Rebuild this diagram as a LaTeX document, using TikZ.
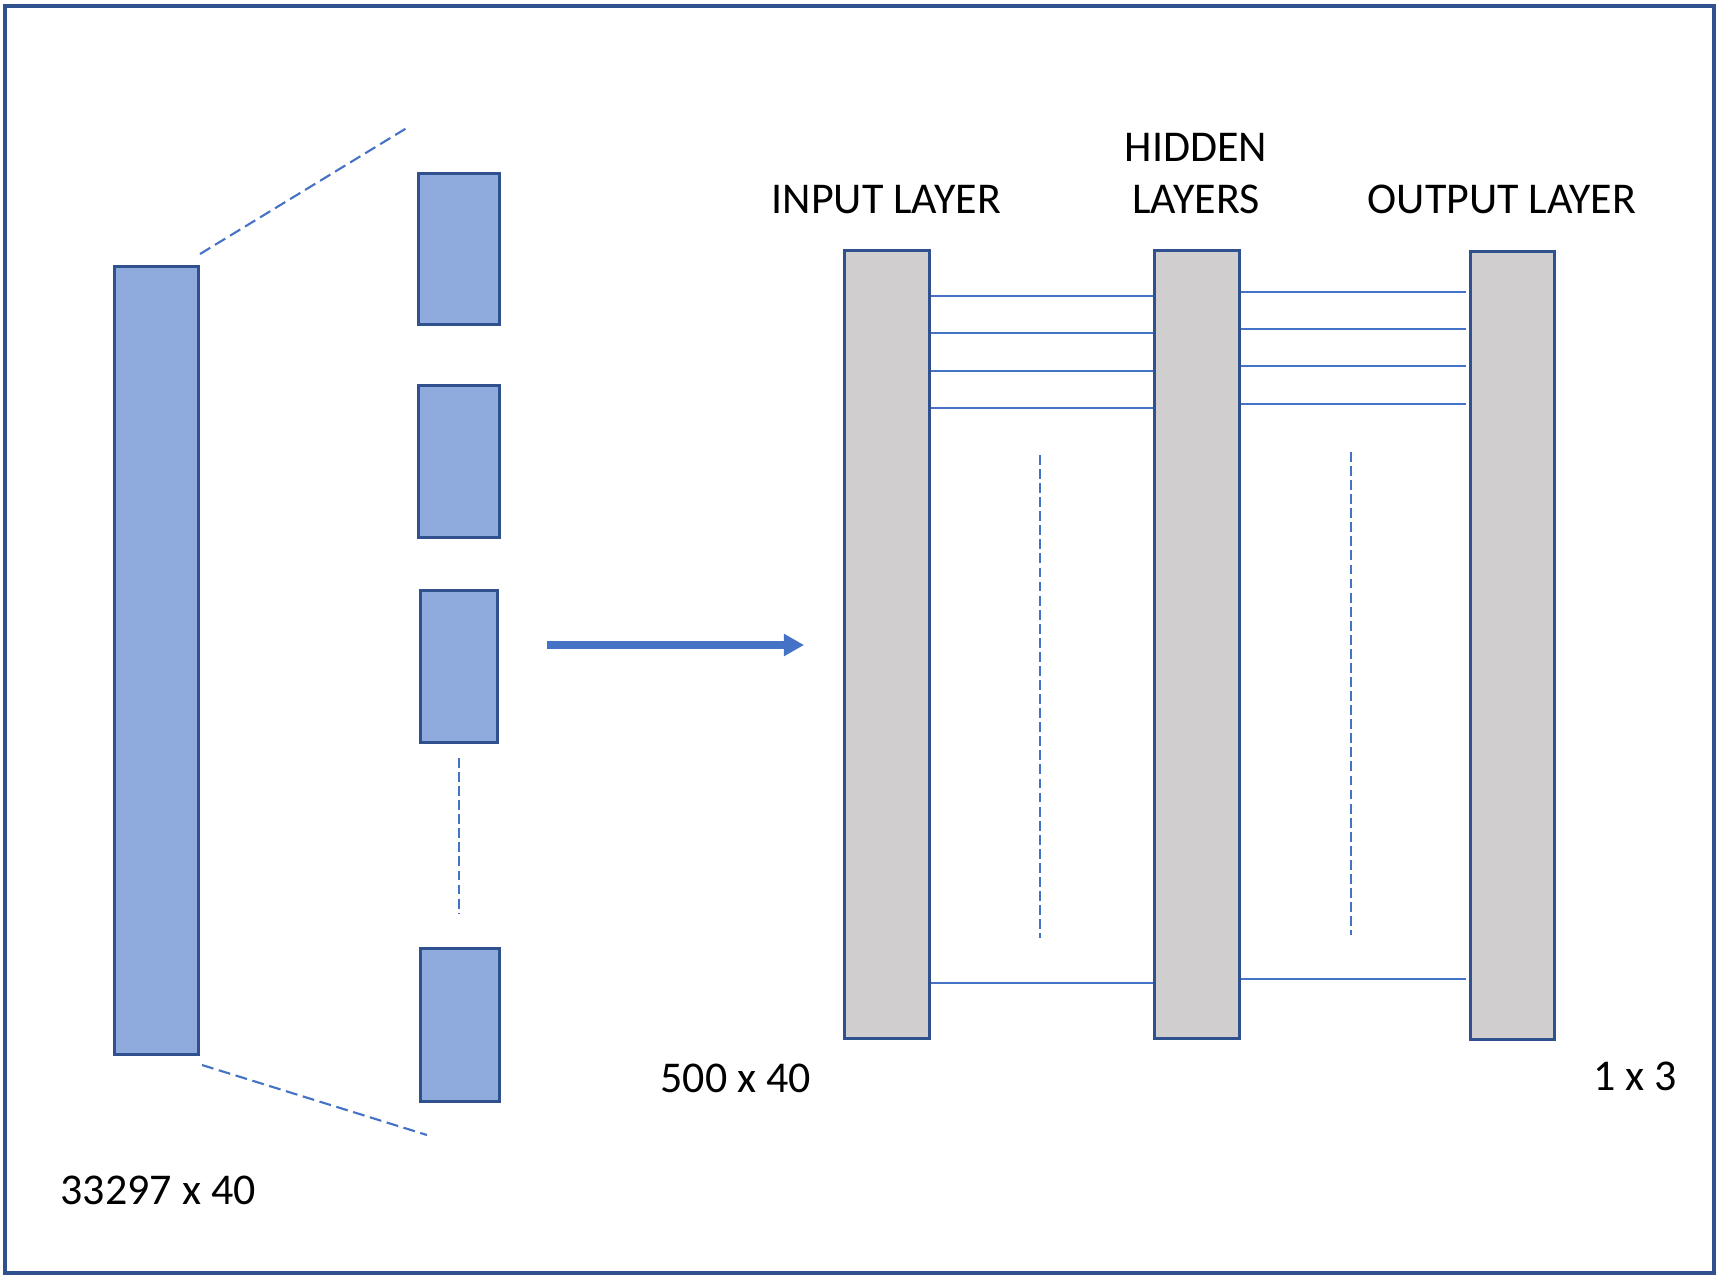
\documentclass[tikz,border=0pt]{standalone}
\usepackage{fontspec}
\setmainfont{Carlito}
\usetikzlibrary{arrows.meta}

\definecolor{azulcaja}{HTML}{8FAADC}
\definecolor{azulborde}{HTML}{2F528F}
\definecolor{azullinea}{HTML}{4472C4}
\definecolor{griscapa}{HTML}{D0CECE}

\tikzset{
  bloque/.style={draw=azulborde, line width=0.85pt, fill=azulcaja, inner sep=0pt, anchor=north west},
  capa/.style={draw=azulborde, line width=0.85pt, fill=griscapa, inner sep=0pt, anchor=north west,
    minimum width=0.85cm, minimum height=7.88cm},
  enlace/.style={draw=azullinea, line width=0.5pt},
  puntos/.style={draw=azullinea, line width=0.6pt, dash pattern=on 2.8pt off 1.2pt},
  zoomlinea/.style={draw=azullinea, line width=0.6pt, dash pattern=on 3.4pt off 1.6pt},
  etiqueta/.style={font=\fontsize{12.5}{14.8}\selectfont, inner sep=0pt, anchor=base west}
}

\begin{document}
\begin{tikzpicture}[x=0.01cm, y=-0.01cm]
    \useasboundingbox (0,0) rectangle (1721,1278);

    % Marco exterior
    \draw[azulborde, line width=1pt] (5,6) rectangle (1714,1273);

    % Matriz completa
    \node[bloque, minimum width=0.84cm, minimum height=7.88cm] (grande) at (113,265) {};
    \node[etiqueta] (lblgrande) at (60,1204) {33297 x 40};

    % Trozos de la matriz
    \node[bloque, minimum width=0.81cm, minimum height=1.51cm] (trozo1) at (417,172) {};
    \node[bloque, minimum width=0.81cm, minimum height=1.52cm] (trozo2) at (417,384) {};
    \node[bloque, minimum width=0.77cm, minimum height=1.52cm] (trozo3) at (419,589) {};
    \node[bloque, minimum width=0.79cm, minimum height=1.53cm] (trozo4) at (419,947) {};
    \draw[puntos] (trozo3.south |- 0,758) -- (trozo3.south |- 0,914);

    % Lineas de ampliacion
    \coordinate (zA) at (200,254);
    \coordinate (zB) at (410,126);
    \coordinate (zC) at (202,1065);
    \coordinate (zD) at (427,1135);
    \draw[zoomlinea] (zA) -- (zB);
    \draw[zoomlinea] (zC) -- (zD);

    % Flecha hacia la red
    \coordinate (flechaA) at (547,645);
    \coordinate (flechaB) at (804,645);
    \draw[azullinea, line width=2pt, -{Triangle[length=5.7pt, width=6pt]}] (flechaA) -- (flechaB);

    % Capas de la red
    \node[capa] (ent) at (843,249) {};
    \node[capa] (ocu) at (1153,249) {};
    \node[capa, minimum width=0.84cm] (sal) at (1469,250) {};

    % Conexiones entrada - ocultas
    \foreach \y in {296,333,371,408,983}
        \draw[enlace] (ent.east |- 0,\y) -- (ocu.west |- 0,\y);

    % Conexiones ocultas - salida
    \foreach \y in {292,329,366,404,979}
        \draw[enlace] (ocu.east |- 0,\y) -- ++(225,0);

    % Puntos suspensivos
    \draw[puntos] (1040,455) -- (1040,938);
    \draw[puntos] (1351,452) -- (1351,935);

    % Etiquetas
    \node[etiqueta] (lblent) at (771,213) {INPUT LAYER};
    \node[etiqueta, anchor=base] (lblocu1) at (1196,161) {HIDDEN};
    \node[etiqueta, anchor=base] (lblocu2) at (1196,213) {LAYERS};
    \node[etiqueta] (lblsal) at (1367,213) {OUTPUT LAYER};
    \node[etiqueta] (lbldim1) at (660,1092) {500 x 40};
    \node[etiqueta] (lbldim2) at (1593,1090) {1 x 3};
\end{tikzpicture}
\end{document}
